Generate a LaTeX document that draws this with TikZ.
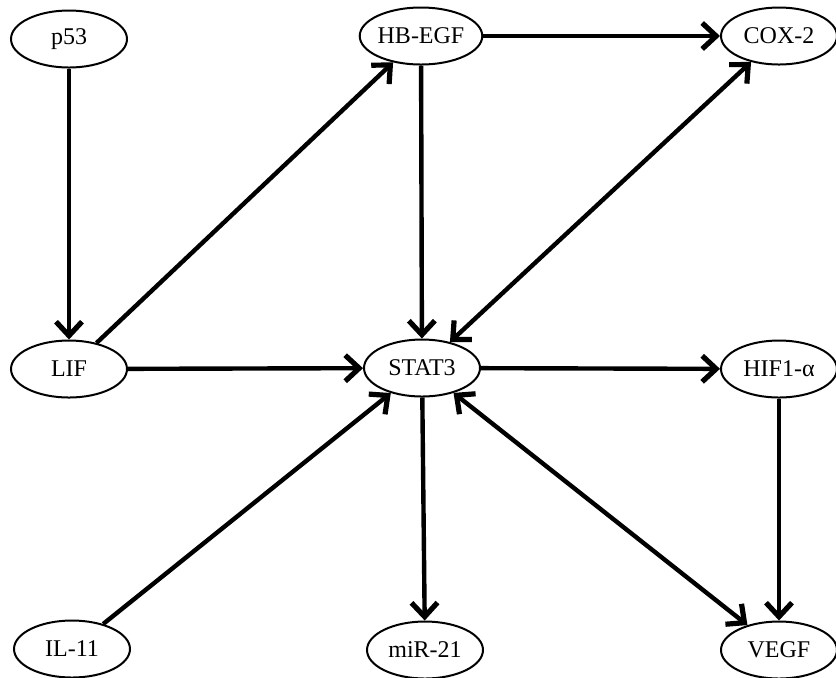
\documentclass[tikz,border=0pt]{standalone}
\usepackage{fontspec}
\setmainfont{Liberation Serif}
\usetikzlibrary{shapes.geometric,arrows.meta}

\tikzset{
  gene/.style={draw, ellipse, line width=1pt, minimum width=58pt, minimum height=28.5pt,
    inner sep=0pt, font=\fontsize{12}{14}\selectfont},
  link/.style={line width=2.2pt, ->, >={Straight Barb[length=7pt,width=13pt,line width=2.6pt]}},
}

\begin{document}
\begin{tikzpicture}[x=0.5pt,y=-0.5pt]
  \useasboundingbox (0,0) rectangle (836,677);

  % top row
  \node[gene] (p53)   at (69,39)  {p53};
  \node[gene] (hbegf) at (421,36) {HB-EGF};
  \node[gene] (cox2)  at (779,36) {COX-2};
  % middle row
  \node[gene] (lif)   at (69,369)  {LIF};
  \node[gene] (stat3) at (422,368) {STAT3};
  \node[gene] (hif1a) at (779,369) {HIF1-α};
  % bottom row
  \node[gene] (il11)  at (72,649)  {IL-11};
  \node[gene] (mir21) at (425,650) {miR-21};
  \node[gene] (vegf)  at (779,650) {VEGF};

  \draw[link] (p53) -- (lif);
  \draw[link] (lif) -- (hbegf);
  \draw[link] (lif) -- (stat3);
  \draw[link] (hbegf) -- (cox2);
  \draw[link] (hbegf) -- (stat3);
  \draw[link, <->] (cox2) -- (stat3);
  \draw[link] (stat3) -- (hif1a);
  \draw[link] (stat3) -- (mir21);
  \draw[link, <->] (stat3) -- (vegf);
  \draw[link] (il11) -- (stat3);
  \draw[link] (hif1a) -- (vegf);
\end{tikzpicture}
\end{document}
